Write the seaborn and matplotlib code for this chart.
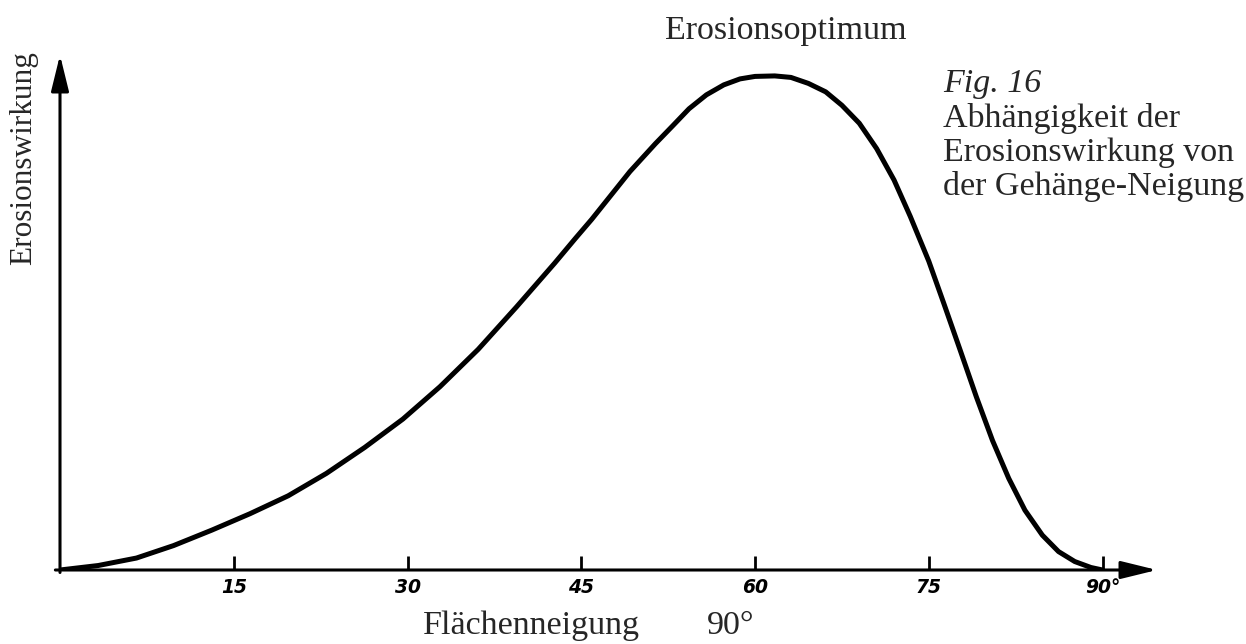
import numpy as np
import matplotlib
matplotlib.use("Agg")
import matplotlib.pyplot as plt
import seaborn as sns
import pandas as pd

# slope angle (degrees) and relative erosion effect
angle = [0, 3.3, 6.6, 9.8, 13.1, 15.0, 16.4, 19.7, 23.0, 26.3, 29.6, 32.8,
         36.1, 39.4, 42.7, 44.5, 45.9, 49.2, 51.4, 52.9, 54.3, 55.8, 57.3,
         58.7, 60.0, 61.7, 63.1, 64.6, 66.1, 67.5, 69.0, 70.5, 72.0, 73.4,
         75.0, 76.3, 77.7, 79.1, 80.5, 81.9, 83.3, 84.8, 86.2, 87.6, 89.0,
         90.0]
effect = [0, 0.9, 2.4, 4.9, 8.0, 9.9, 11.3, 14.9, 19.4, 24.6, 30.3, 36.8,
          44.3, 52.8, 61.6, 66.6, 70.4, 80.0, 85.6, 89.2, 92.6, 95.4, 97.4,
          98.6, 99.1, 99.2, 98.9, 97.7, 96.0, 93.3, 89.7, 84.6, 78.3, 71.0,
          62.0, 53.5, 44.2, 34.8, 26.0, 18.4, 12.0, 7.0, 3.7, 1.7, 0.5, 0]
tick_pos = [15, 30, 45, 60, 75, 90]
tick_labels = ['15', '30', '45', '60', '75', '90°']

df = pd.DataFrame({'angle': angle, 'effect': effect})

sns.set_style('white')
plt.rcParams['font.family'] = ['Liberation Serif', 'DejaVu Serif']

W, H = 1246, 644
fig = plt.figure(figsize=(W / 100, H / 100), dpi=100)
ax = fig.add_axes([60 / W, 74 / H, 1097 / W, 515 / H])

sns.lineplot(data=df, x='angle', y='effect', color='black', lw=3.6, ax=ax,
             solid_joinstyle='round', solid_capstyle='round')

xmax, ymax = 94.7, 103.4
ax.set_xlim(0, xmax)
ax.set_ylim(0, ymax)

for s in ax.spines.values():
    s.set_visible(False)

# axes drawn as arrows
arrow = dict(arrowstyle='-|>,head_length=1.1,head_width=0.27',
             mutation_scale=20, lw=2.2, color='black', shrinkA=0, shrinkB=0)
ax.annotate('', xy=(xmax, 0), xytext=(-0.4, 0), arrowprops=arrow,
            annotation_clip=False)
ax.annotate('', xy=(0, ymax), xytext=(0, -0.5), arrowprops=arrow,
            annotation_clip=False)

ax.set_xticks(tick_pos)
ax.set_xticklabels(tick_labels, fontfamily='DejaVu Sans', fontweight='bold',
                   fontstyle='italic', fontsize=13.5)
ax.tick_params(axis='x', direction='in', length=10, width=2, pad=6,
               bottom=True, colors='black')
ax.set_yticks([])
ax.set_xlabel('')
ax.set_ylabel('')


def put(x, y, s, **kw):
    fig.text(x / W, 1 - y / H, s, **kw)


put(24, 158, 'Erosionswirkung', rotation=90, ha='center', va='center',
    fontsize=22.5)
put(531, 634, 'Flächenneigung', ha='center', va='baseline', fontsize=24.5)
put(731, 634, '90°', ha='center', va='baseline', fontsize=24.5)
put(786, 39, 'Erosionsoptimum', ha='center', va='baseline', fontsize=24.5)
put(943, 92, 'Fig. 16', ha='left', va='baseline', fontsize=24.5,
    fontstyle='italic')
caption = ['Abhängigkeit der', 'Erosionswirkung von', 'der Gehänge-Neigung']
for i, line in enumerate(caption):
    put(943, 127 + 34 * i, line, ha='left', va='baseline', fontsize=24.5)

fig.savefig('out.png', dpi=100)
